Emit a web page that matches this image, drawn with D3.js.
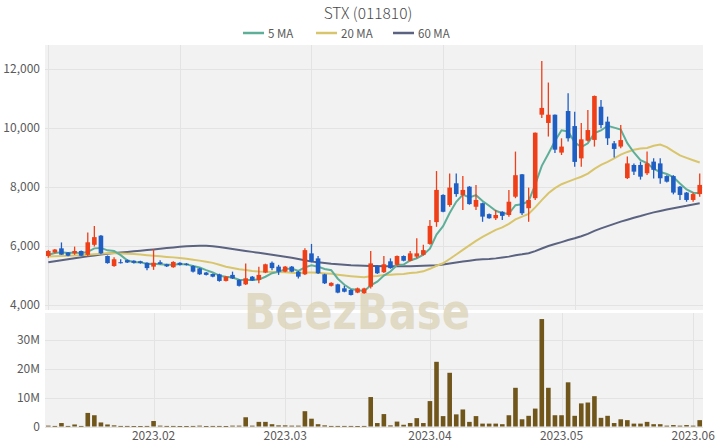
<!DOCTYPE html>
<html><head><meta charset="utf-8">
<script src="https://cdn.jsdelivr.net/npm/d3@7"></script>
<style>body{margin:0;background:#fff}svg{display:block}text{font-family:"Noto Sans CJK KR","Noto Sans",sans-serif}</style>
</head><body><svg id="c" width="720" height="448"></svg>
<script>
const title = "STX (011810)";
const dates = ["2023-01-06","2023-01-09","2023-01-10","2023-01-11","2023-01-12","2023-01-13","2023-01-16","2023-01-17","2023-01-18","2023-01-19","2023-01-20","2023-01-25","2023-01-26","2023-01-27","2023-01-30","2023-01-31",
"2023-02-01","2023-02-02","2023-02-03","2023-02-06","2023-02-07","2023-02-08","2023-02-09","2023-02-10","2023-02-13","2023-02-14","2023-02-15","2023-02-16","2023-02-17","2023-02-20","2023-02-21","2023-02-22","2023-02-23","2023-02-24","2023-02-27","2023-02-28",
"2023-03-02","2023-03-03","2023-03-06","2023-03-07","2023-03-08","2023-03-09","2023-03-10","2023-03-13","2023-03-14","2023-03-15","2023-03-16","2023-03-17","2023-03-20","2023-03-21","2023-03-22","2023-03-23","2023-03-24","2023-03-27","2023-03-28","2023-03-29","2023-03-30","2023-03-31",
"2023-04-03","2023-04-04","2023-04-05","2023-04-06","2023-04-07","2023-04-10","2023-04-11","2023-04-12","2023-04-13","2023-04-14","2023-04-17","2023-04-18","2023-04-19","2023-04-20","2023-04-21","2023-04-24","2023-04-25","2023-04-26","2023-04-27","2023-04-28",
"2023-05-02","2023-05-03","2023-05-04","2023-05-08","2023-05-09","2023-05-10","2023-05-11","2023-05-12","2023-05-15","2023-05-16","2023-05-17","2023-05-18","2023-05-19","2023-05-22","2023-05-23","2023-05-24","2023-05-25","2023-05-26","2023-05-30","2023-05-31",
"2023-06-01","2023-06-02"];
const open  = [5660,5780,5920,5780,5750,5830,5700,6040,6350,5660,5320,5450,5520,5500,5480,5430,5300,5450,5380,5280,5430,5400,5320,5240,5100,5050,5040,4815,5020,4850,4700,4960,4850,5100,5430,5300,5130,5300,5130,5040,5750,5580,5040,4650,4700,4565,4510,4420,4400,4620,5320,5110,5480,5360,5660,5500,5640,5700,6070,6810,7730,7390,8125,7730,8010,7330,7450,7080,6940,7160,7050,7670,8430,7280,7620,10450,10170,10450,9165,10575,10065,8970,9570,9595,10720,10215,9480,9370,8300,8745,8746,8465,8860,8800,8370,8370,8010,7810,7560,7760];
const high  = [5860,5900,6120,5800,5980,5850,6460,6680,6370,5680,5620,5550,5540,5520,5500,5450,5890,5520,5400,5480,5450,5420,5350,5260,5120,5070,5060,4980,5130,4870,5410,4980,5300,5400,5470,5360,5320,5320,5150,5920,6070,5660,5060,4770,4720,4650,4530,4590,4580,5830,5340,5660,5580,5680,5680,5830,6260,6040,6880,8540,7750,8460,8460,8370,8030,8070,7470,7100,7220,7180,7900,9200,8440,7980,9850,12270,11540,10460,9650,11175,10550,10170,10610,11100,10950,10385,9560,10100,9030,8800,8860,9200,8970,8970,8400,8400,8030,7830,7810,8460];
const low   = [5600,5750,5700,5650,5700,5650,5640,5980,5720,5400,5300,5410,5420,5410,5400,5180,5190,5370,5290,5260,5340,5340,5100,5020,5000,4940,4790,4800,4880,4630,4680,4810,4740,5080,5180,5020,5110,5110,4900,5017,5450,5050,4710,4630,4400,4430,4320,4400,4380,4560,5050,5080,5230,5340,5480,5480,5580,5680,6040,6650,7140,7330,7670,7220,7400,7220,6820,6920,6880,6880,6990,7620,7050,6820,7560,10340,9710,9150,9085,9540,8690,8690,9540,9370,9990,9425,9000,9310,8270,8410,8250,8410,8290,8110,8150,7750,7560,7500,7500,7670];
const close = [5830,5880,5705,5670,5830,5670,6125,6300,5750,5420,5550,5420,5440,5430,5420,5250,5430,5390,5310,5460,5360,5360,5130,5040,5020,4960,4815,4960,4900,4650,4905,4830,5020,5380,5250,5130,5300,5130,4960,5860,5470,5075,4735,4750,4420,4450,4340,4565,4560,5410,5075,5380,5250,5660,5500,5750,5750,5860,6680,7900,7160,7980,7760,7900,7420,7560,6995,6940,7050,7020,7500,8400,7110,7560,9840,10680,10450,9265,9370,9650,8850,9615,9930,11085,10100,9650,9290,9590,8800,8520,8350,8800,8580,8295,8180,7810,7730,7560,7760,8070];
const volumeM = [0.3,0.2,1.2,0.2,0.7,0.2,4.7,3.9,1.4,0.7,0.4,0.2,0.2,0.15,0.15,0.2,1.9,0.3,0.2,0.2,0.15,0.15,0.2,0.3,0.15,0.2,0.2,0.15,0.3,0.3,3.2,0.3,1.6,1.6,0.8,0.4,0.4,0.3,0.3,5.3,2.7,0.8,0.4,0.2,0.2,0.2,0.2,0.15,0.2,10.2,1.2,4.3,0.4,1.7,0.6,1.2,2.9,1.2,8.8,22.4,3.6,18.6,4.2,5.9,1.6,3.6,1.0,1.0,1.0,0.8,3.9,13.4,2.5,3.7,6.2,37.2,13.4,3.9,3.9,15.3,3.7,8.0,8.3,10.5,3.0,3.7,1.2,2.5,2.2,1.0,1.0,1.6,0.8,0.8,0.3,0.5,0.3,0.5,0.3,2.2];
const ma5  = [5700,5760,5790,5760,5783,5751,5800,5919,5935,5853,5829,5688,5516,5452,5452,5392,5394,5384,5360,5368,5390,5376,5324,5270,5182,5102,4993,4959,4931,4857,4846,4849,4861,4957,5077,5122,5216,5238,5154,5276,5344,5299,5220,5178,4890,4686,4539,4505,4467,4665,4790,4998,5135,5355,5373,5508,5582,5704,5908,6388,6670,7116,7496,7740,7644,7724,7527,7363,7193,7113,7101,7382,7416,7518,8082,8718,9128,9559,9921,9883,9517,9350,9483,9826,9916,10076,10011,9943,9486,9170,8910,8812,8610,8509,8441,8333,8119,7915,7808,7786];
const ma20 = [5640,5650,5660,5670,5680,5690,5700,5720,5740,5750,5750,5745,5735,5725,5710,5690,5670,5650,5630,5614,5591,5565,5536,5504,5464,5428,5363,5296,5253,5215,5183,5153,5132,5130,5121,5115,5109,5096,5078,5098,5104,5089,5070,5055,5025,5000,4976,4956,4939,4977,4986,5013,5025,5039,5051,5082,5105,5141,5227,5329,5414,5559,5710,5868,6018,6173,6306,6425,6549,6630,6751,6902,6995,7090,7307,7553,7788,7959,8093,8181,8265,8347,8455,8615,8749,8853,8968,9100,9188,9263,9305,9325,9399,9436,9353,9209,9073,8988,8907,8828];
const ma60 = [5450,5485,5518,5550,5585,5618,5650,5680,5710,5740,5760,5780,5800,5820,5840,5860,5883,5906,5930,5950,5970,5990,6000,6010,6005,5990,5965,5935,5900,5867,5833,5800,5767,5733,5700,5667,5633,5600,5557,5513,5470,5447,5423,5400,5383,5367,5350,5342,5333,5325,5320,5315,5310,5310,5310,5310,5318,5326,5335,5347,5369,5404,5438,5475,5502,5533,5548,5558,5580,5607,5639,5689,5717,5752,5826,5916,6000,6065,6132,6202,6260,6331,6411,6512,6597,6675,6749,6827,6892,6956,7014,7080,7139,7188,7237,7281,7322,7362,7409,7446];
const priceTicks = [4000,6000,8000,10000,12000];
const volTicks = [0,10,20,30];
const monthTickDates = ["2023-02-01","2023-03-02","2023-04-03","2023-05-02","2023-06-01"];
const monthTickLabels = ["2023.02","2023.03","2023.04","2023.05","2023.06"];
const upperGridDates = ["2023-01-06","2023-02-07","2023-03-08","2023-04-05","2023-05-04"];
const legendNames = ["5 MA","20 MA","60 MA"];

const C = {up:"#ee3f18", down:"#1f5fc4", vol:"#70561b", m5:"#5fae98", m20:"#d9c56c", m60:"#5b6380",
  bg:"#f2f2f2", grid:"#e3e3e3", text:"#5a5a5a"};
const L=45, R=703, PT=45, PB=310, VT=313, VB=426.5;

const svg = d3.select("#c");
const x = d3.scaleBand().domain(dates).range([L,R]).paddingInner(0.3).paddingOuter(0.15);
const cx = d => x(d) + x.bandwidth()/2;
const y = d3.scaleLinear().domain([3830,12813]).range([PB,PT]);
const yv = d3.scaleLinear().domain([0,39.3]).range([VB,VT]);

svg.append("rect").attr("x",L).attr("y",PT).attr("width",R-L).attr("height",PB-PT).attr("fill",C.bg);
svg.append("rect").attr("x",L).attr("y",VT).attr("width",R-L).attr("height",VB-VT+0.5).attr("fill",C.bg);

// grids
svg.append("g").selectAll("line").data(priceTicks).join("line")
  .attr("x1",L).attr("x2",R).attr("y1",d=>Math.round(y(d))+0.5).attr("y2",d=>Math.round(y(d))+0.5)
  .attr("stroke",C.grid);
svg.append("g").selectAll("line").data(upperGridDates).join("line")
  .attr("x1",d=>Math.round(cx(d))+0.5).attr("x2",d=>Math.round(cx(d))+0.5).attr("y1",PT).attr("y2",PB)
  .attr("stroke",C.grid);
svg.append("g").selectAll("line").data(volTicks).join("line")
  .attr("x1",L).attr("x2",R).attr("y1",d=>Math.round(yv(d))+0.5).attr("y2",d=>Math.round(yv(d))+0.5)
  .attr("stroke",C.grid);
svg.append("g").selectAll("line").data(monthTickDates).join("line")
  .attr("x1",d=>Math.round(cx(d))+0.5).attr("x2",d=>Math.round(cx(d))+0.5).attr("y1",VT).attr("y2",VB)
  .attr("stroke",C.grid);

// watermark
svg.append("text").attr("x",357).attr("y",329).attr("text-anchor","middle")
  .attr("font-size",50).attr("font-weight",700).attr("fill","#ddd5bc").attr("opacity",0.85)
  .attr("textLength",226).attr("lengthAdjust","spacingAndGlyphs")
  .style("font-family","'DejaVu Sans',sans-serif").text("BeezBase");

// axes labels
const yAxis = d3.axisLeft(y).tickValues(priceTicks).tickSize(0).tickPadding(4).tickFormat(d3.format(","));
const gy = svg.append("g").attr("transform",`translate(${L-1},0)`).call(yAxis);
const yvAxis = d3.axisLeft(yv).tickValues(volTicks).tickSize(0).tickPadding(4).tickFormat(d=> d===0?"0":d+"M");
const gyv = svg.append("g").attr("transform",`translate(${L-1},0)`).call(yvAxis);
const xAxis = d3.axisBottom(x).tickValues(monthTickDates).tickSize(0).tickPadding(4)
  .tickFormat(d=>monthTickLabels[monthTickDates.indexOf(d)]);
const gx = svg.append("g").attr("transform",`translate(0,${VB+1})`).call(xAxis);
[gy,gyv,gx].forEach(g=>{g.select(".domain").remove();
  g.selectAll("text").attr("fill",C.text).attr("font-size",12).style("font-family","'Noto Sans CJK KR','Noto Sans',sans-serif");});

// volume
svg.append("g").selectAll("rect").data(dates).join("rect")
  .attr("x",d=>x(d)).attr("width",x.bandwidth())
  .attr("y",(d,i)=>yv(volumeM[i])).attr("height",(d,i)=>Math.max(0.8,VB-yv(volumeM[i])))
  .attr("fill",C.vol);

// MA lines
const mkLine = arr => d3.line().x((d,i)=>cx(dates[i])).y(d=>y(d))(arr);
[[ma60,C.m60],[ma20,C.m20],[ma5,C.m5]].forEach(([arr,col])=>{
  svg.append("path").attr("d",mkLine(arr)).attr("fill","none").attr("stroke",col).attr("stroke-width",2);
});

// candles
const cg = svg.append("g");
dates.forEach((d,i)=>{
  const up = close[i] >= open[i];
  const col = up ? C.up : C.down;
  cg.append("line").attr("x1",cx(d)).attr("x2",cx(d)).attr("y1",y(high[i])).attr("y2",y(low[i]))
    .attr("stroke",col).attr("stroke-width",1.3);
  const t = y(Math.max(open[i],close[i])), b = y(Math.min(open[i],close[i]));
  cg.append("rect").attr("x",x(d)).attr("width",x.bandwidth()).attr("y",t).attr("height",Math.max(1,b-t)).attr("fill",col);
});

// title
svg.append("text").attr("x",368).attr("y",18.5).attr("text-anchor","middle").attr("font-size",15.5)
  .attr("fill","#4a4a4a").attr("font-weight",300).text(title);

// legend
const legX = [243,316,393];
const lg = svg.append("g");
legendNames.forEach((n,k)=>{
  const col = [C.m5,C.m20,C.m60][k];
  lg.append("line").attr("x1",legX[k]).attr("x2",legX[k]+21).attr("y1",33).attr("y2",33).attr("stroke",col).attr("stroke-width",2.5);
  lg.append("text").attr("x",legX[k]+25).attr("y",37.5).attr("font-size",11.5).attr("fill",C.text).text(n);
});
</script></body></html>
